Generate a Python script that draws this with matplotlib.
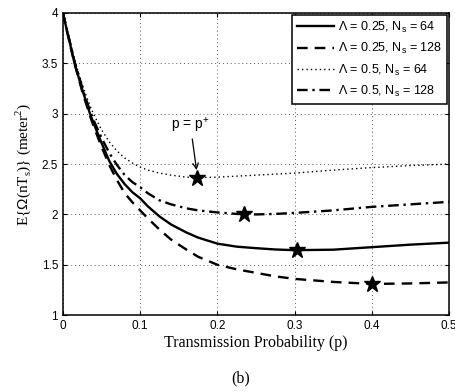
import matplotlib
matplotlib.use("Agg")
import matplotlib.pyplot as plt

# Data
p = [0.0, 0.005, 0.01, 0.015, 0.02, 0.025, 0.03, 0.035, 0.04, 0.05, 0.06, 0.07, 0.08, 0.09,
     0.1, 0.11, 0.125, 0.14, 0.15, 0.16, 0.175, 0.2, 0.225, 0.25, 0.275, 0.3, 0.35, 0.4, 0.45, 0.5]
solid_025_64 = [4.0, 3.83, 3.67, 3.5, 3.37, 3.24, 3.12, 3.0, 2.90, 2.71, 2.53, 2.40, 2.30, 2.22,
                2.16, 2.08, 1.98, 1.90, 1.86, 1.82, 1.77, 1.71, 1.68, 1.665, 1.652, 1.645, 1.65, 1.675, 1.70, 1.72]
dashed_025_128 = [4.0, 3.83, 3.66, 3.5, 3.36, 3.22, 3.10, 2.98, 2.87, 2.67, 2.49, 2.34, 2.21, 2.12,
                  2.04, 1.96, 1.85, 1.75, 1.70, 1.65, 1.58, 1.50, 1.455, 1.42, 1.385, 1.36, 1.33, 1.31, 1.315, 1.325]
dotted_05_64 = [4.0, 3.85, 3.69, 3.54, 3.41, 3.29, 3.18, 3.08, 2.99, 2.84, 2.72, 2.63, 2.56, 2.51,
                2.47, 2.44, 2.41, 2.39, 2.38, 2.37, 2.365, 2.37, 2.38, 2.39, 2.40, 2.41, 2.44, 2.465, 2.485, 2.5]
dashdot_05_128 = [4.0, 3.84, 3.68, 3.52, 3.39, 3.26, 3.14, 3.03, 2.93, 2.76, 2.61, 2.49, 2.39, 2.32,
                  2.27, 2.21, 2.14, 2.10, 2.08, 2.06, 2.04, 2.02, 2.005, 2.0, 2.005, 2.015, 2.04, 2.075, 2.10, 2.125]

star_p = [0.173, 0.234, 0.303, 0.40]
star_v = [2.36, 2.0, 1.645, 1.31]

labels = [r"$\Lambda$ = 0.25, N$_\mathregular{s}$ = 64",
          r"$\Lambda$ = 0.25, N$_\mathregular{s}$ = 128",
          r"$\Lambda$ = 0.5, N$_\mathregular{s}$ = 64",
          r"$\Lambda$ = 0.5, N$_\mathregular{s}$ = 128"]

xticks = [0, 0.1, 0.2, 0.3, 0.4, 0.5]
yticks = [1, 1.5, 2, 2.5, 3, 3.5, 4]

plt.rcParams['font.family'] = ['Liberation Sans', 'DejaVu Sans']
plt.rcParams['mathtext.fontset'] = 'custom'
plt.rcParams['mathtext.rm'] = 'Liberation Sans'

fig = plt.figure(figsize=(4.56, 3.92), dpi=100)
ax = fig.add_axes([0.138, 0.196, 0.847, 0.771])

ax.plot(p, solid_025_64, color='k', lw=1.7, ls='-', label=labels[0])
ax.plot(p, dashed_025_128, color='k', lw=1.7, ls=(0, (4.5, 3)), label=labels[1])
ax.plot(p, dotted_05_64, color='k', lw=1.0, ls=(0, (1, 2.2)), label=labels[2])
ax.plot(p, dashdot_05_128, color='k', lw=1.7, ls=(0, (4.5, 2, 1, 2)), label=labels[3])

ax.plot(star_p, star_v, ls='none', marker='*', ms=12, mfc='k', mec='k', zorder=5)

ax.set_xlim(0, 0.5)
ax.set_ylim(1, 4)
ax.set_xticks(xticks)
ax.set_xticklabels(['0', '0.1', '0.2', '0.3', '0.4', '0.5'])
ax.set_yticks(yticks)
ax.set_yticklabels(['1', '1.5', '2', '2.5', '3', '3.5', '4'])
ax.tick_params(direction='in', top=True, right=True, labelsize=8.5, length=3, width=0.8, pad=3.5)
ax.grid(True, ls=(0, (1, 3)), color='0.35', lw=0.7)
for s in ax.spines.values():
    s.set_linewidth(1.1)

ax.annotate(r"p = p$^\mathregular{+}$", xy=(star_p[0], star_v[0] + 0.08),
            xytext=(0.165, 2.79), ha='center', va='bottom', fontsize=10,
            arrowprops=dict(arrowstyle='->', color='k', lw=0.9, shrinkA=1, shrinkB=0))

serif = ['Liberation Serif', 'DejaVu Serif']
ax.set_xlabel("Transmission Probability (p)", fontsize=11.5, family=serif, labelpad=2)
ax.set_ylabel(r"E{$\Omega$(nT$_\mathregular{s}$)} (meter$^\mathregular{2}$)", fontsize=11, family=serif, labelpad=6)

leg = ax.legend(loc='upper right', fontsize=9, frameon=True, fancybox=False,
                edgecolor='k', framealpha=1, borderpad=0.4, labelspacing=0.5,
                handlelength=3.0, handletextpad=0.3, borderaxespad=0.15)
leg.get_frame().set_linewidth(1.1)

fig.text(0.527, 0.035, "(b)", ha='center', va='center', fontsize=11.5, family=serif)

fig.savefig("out.png", dpi=100)
